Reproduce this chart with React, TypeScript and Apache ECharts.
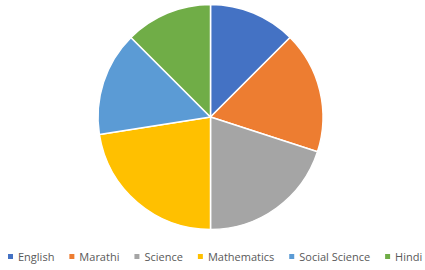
import React, { useEffect, useRef } from "react";
import * as echarts from "echarts";

const categories = ["English", "Marathi", "Science", "Mathematics", "Social Science", "Hindi"];
const values = [50, 70, 80, 90, 60, 50];
const colors = ["#4472C4", "#ED7D31", "#A5A5A5", "#FFC000", "#5B9BD5", "#70AD47"];

export default function App() {
  const ref = useRef<HTMLDivElement>(null);
  useEffect(() => {
    document.body.style.margin = "0";
    const chart = echarts.init(ref.current!, undefined, { renderer: "svg" });
    chart.setOption({
      animation: false,
      backgroundColor: "#ffffff",
      color: colors,
      legend: {
        top: 251,
        left: 6,
        width: 419,
        padding: 0,
        icon: "rect",
        itemWidth: 7,
        itemHeight: 7,
        itemGap: 13,
        textStyle: { color: "#595959", fontSize: 11, fontFamily: "Open Sans", padding: [0, 0, 0, -1] },
        data: categories,
      },
      series: [
        {
          type: "pie",
          center: [210.5, 117],
          radius: 112.5,
          startAngle: 90,
          clockwise: true,
          label: { show: false },
          labelLine: { show: false },
          itemStyle: { borderColor: "#ffffff", borderWidth: 1.5 },
          emphasis: { disabled: true },
          data: categories.map((c, i) => ({ name: c, value: values[i] })),
        },
      ],
    });
    return () => chart.dispose();
  }, []);
  return <div ref={ref} style={{ width: 425, height: 270 }} />;
}
